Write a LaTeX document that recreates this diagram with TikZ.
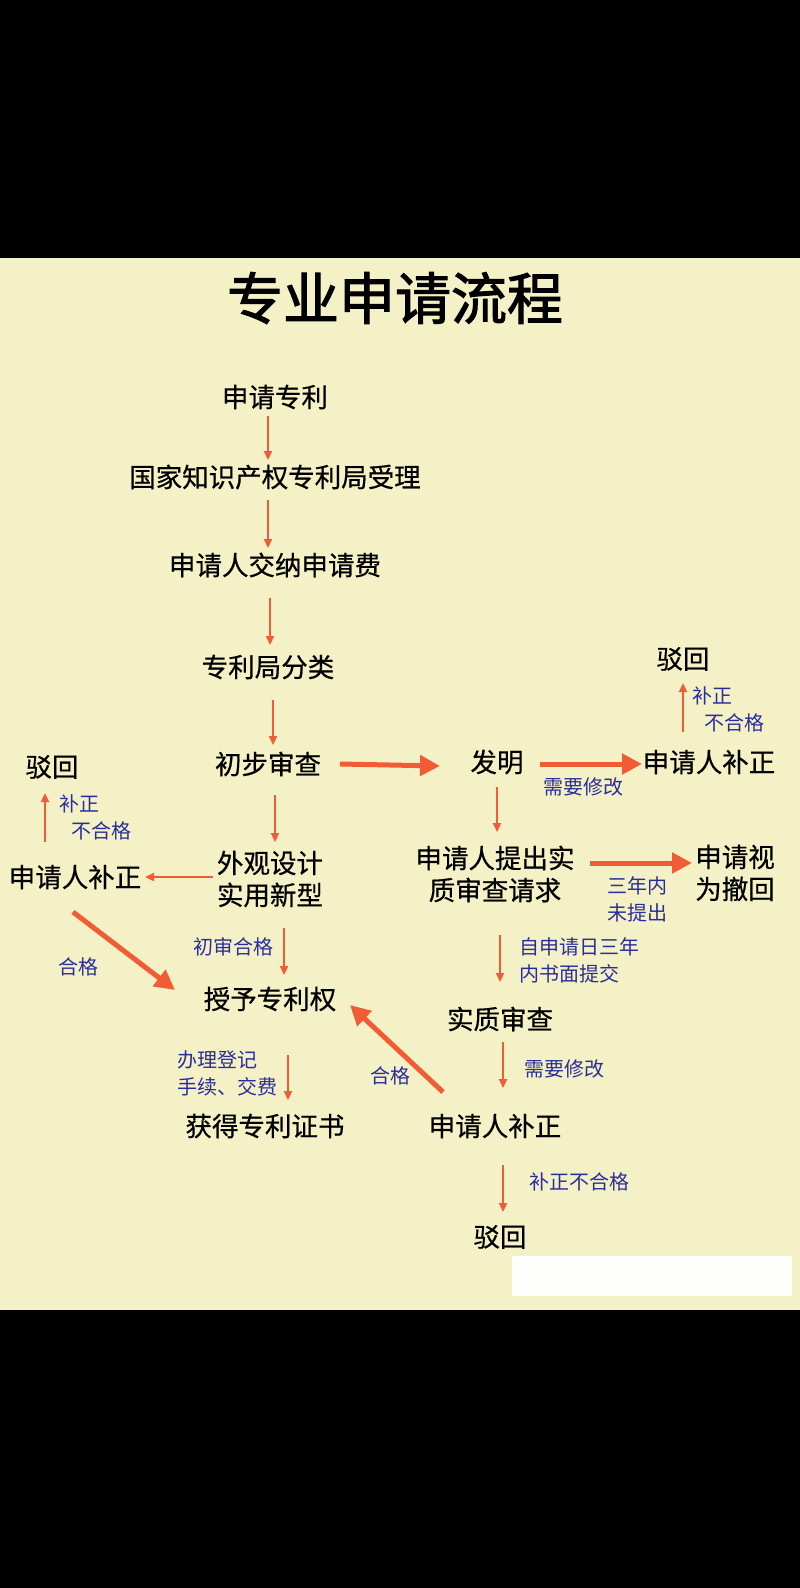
\documentclass[tikz,border=0pt]{standalone}
\usepackage{fontspec}
\newfontfamily\cjk{Noto Sans CJK SC}
\newfontfamily\cjkm{Noto Sans CJK SC}[FakeBold=0.6]
\newfontfamily\cjkb{Noto Sans CJK SC}[FakeBold=2]
\usetikzlibrary{arrows.meta}
\definecolor{cream}{HTML}{F4F1C6}
\definecolor{arr}{HTML}{F25C35}
\definecolor{lbl}{HTML}{2A2E9C}
\tikzset{
 nd/.style={inner sep=1pt,align=center,font=\cjkm\fontsize{26.5}{32}\selectfont,text=black},
 lb/.style={inner sep=1pt,align=left,font=\cjk\fontsize{20}{27}\selectfont,text=lbl},
 sa/.style={draw=arr,line width=2.2pt,-{Triangle[length=9pt,width=8pt]}},
 ba/.style={draw=arr,line width=5pt,-{Triangle[length=20pt,width=20pt]}},
}
\begin{document}
\begin{tikzpicture}[x=1pt,y=-1pt]
\useasboundingbox (0,0) rectangle (800,1588);
\fill[black] (0,0) rectangle (800,1588);
\fill[cream] (0,258) rectangle (800,1310);
\fill[white!92!cream] (512,1256) rectangle (792,1296);
\node[font=\cjkb\fontsize{56}{60}\selectfont] (t) at (395,298) {专业申请流程};
% main column
\node[nd] (a) at (275,397) {申请专利};
\node[nd] (b) at (275,477) {国家知识产权专利局受理};
\node[nd] (c) at (275,565) {申请人交纳申请费};
\node[nd] (d) at (268,667) {专利局分类};
\node[nd] (e) at (268,764) {初步审查};
\node[nd] (f) at (497,762) {发明};
\node[nd] (g) at (709,762) {申请人补正};
\node[nd] (h) at (683,659) {驳回};
\node[nd] (i) at (495,874) {申请人提出实\\质审查请求};
\node[nd] (j) at (735,873) {申请视\\为撤回};
\node[nd] (k) at (500,1019) {实质审查};
\node[nd] (l) at (495,1126) {申请人补正};
\node[nd] (m) at (500,1237) {驳回};
\node[nd] (n) at (270,879) {外观设计\\实用新型};
\node[nd] (o) at (75,877) {申请人补正};
\node[nd] (p) at (52,767) {驳回};
\node[nd] (q) at (270,999) {授予专利权};
\node[nd] (r) at (265,1126) {获得专利证书};
% labels
\node[lb] at (728,709) {补正\\\hspace*{12pt}不合格};
\node[lb] at (583,787) {需要修改};
\node[lb] at (637,899) {三年内\\未提出};
\node[lb] at (579,960) {自申请日三年\\内书面提交};
\node[lb] at (564,1069) {需要修改};
\node[lb] at (579,1182) {补正不合格};
\node[lb] at (95,817) {补正\\\hspace*{12pt}不合格};
\node[lb] at (78,967) {合格};
\node[lb] at (233,947) {初审合格};
\node[lb] at (390,1076) {合格};
\node[lb] at (227,1073) {办理登记\\手续、交费};
% arrow end points
\coordinate (a1) at (268,416); \coordinate (b0) at (268,460);
\coordinate (b1) at (268,500); \coordinate (c0) at (268,548);
\coordinate (c1) at (270,598); \coordinate (d0) at (270,645);
\coordinate (d1) at (273,700); \coordinate (e0) at (273,745);
\coordinate (e1) at (275,795); \coordinate (n0) at (275,842);
\coordinate (e2) at (340,764); \coordinate (f0) at (440,766);
\coordinate (f1) at (540,764); \coordinate (g0) at (642,764);
\coordinate (g1) at (683,732); \coordinate (h0) at (683,683);
\coordinate (f2) at (497,787); \coordinate (i0) at (497,832);
\coordinate (i1) at (590,863); \coordinate (j0) at (692,863);
\coordinate (i2) at (500,935); \coordinate (k0) at (500,982);
\coordinate (k1) at (503,1042); \coordinate (l0) at (503,1088);
\coordinate (l1) at (503,1165); \coordinate (m0) at (503,1212);
\coordinate (n1) at (213,877); \coordinate (o0) at (145,877);
\coordinate (o1) at (45,842); \coordinate (p0) at (45,793);
\coordinate (o2) at (73,912); \coordinate (q0) at (175,990);
\coordinate (n2) at (284,928); \coordinate (q1) at (284,975);
\coordinate (l2) at (443,1092); \coordinate (q2) at (350,1005);
\coordinate (r0) at (288,1055); \coordinate (r1) at (288,1100);
% connectors
\draw[sa] (a1) -- (b0);
\draw[sa] (b1) -- (c0);
\draw[sa] (c1) -- (d0);
\draw[sa] (d1) -- (e0);
\draw[sa] (e1) -- (n0);
\draw[ba] (e2) -- (f0);
\draw[ba] (f1) -- (g0);
\draw[sa] (g1) -- (h0);
\draw[sa] (f2) -- (i0);
\draw[ba] (i1) -- (j0);
\draw[sa] (i2) -- (k0);
\draw[sa] (k1) -- (l0);
\draw[sa] (l1) -- (m0);
\draw[sa] (n1) -- (o0);
\draw[sa] (o1) -- (p0);
\draw[ba] (o2) -- (q0);
\draw[sa] (n2) -- (q1);
\draw[ba] (l2) -- (q2);
\draw[sa] (r0) -- (r1);
\end{tikzpicture}
\end{document}
